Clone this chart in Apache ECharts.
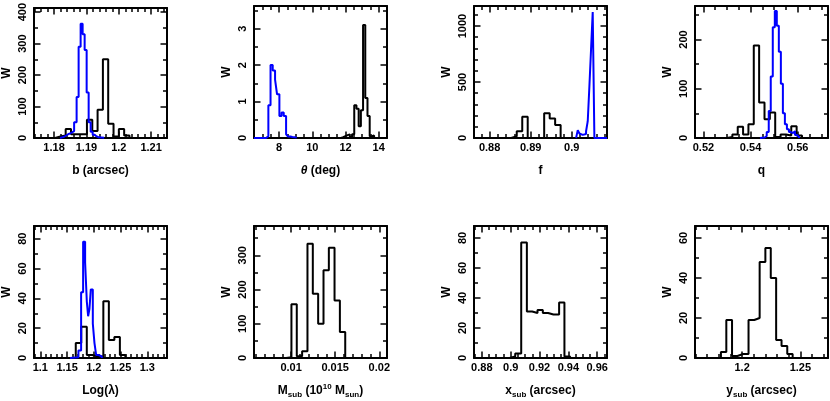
<!DOCTYPE html>
<html>
<head>
<meta charset="utf-8">
<script src="https://cdn.jsdelivr.net/npm/echarts@6/dist/echarts.min.js"></script>
<style>
  html, body { margin: 0; padding: 0; background: #fff; }
  #chart { width: 830px; height: 401px; }
</style>
</head>
<body>
<div id="chart"></div>
<script>
// histogram bin edges (left edges + final right edge) and weights
const bEdgesBlack = [1.18031, 1.18195, 1.18359, 1.18524, 1.18688, 1.18852, 1.19016, 1.19181, 1.19345, 1.19509, 1.19673, 1.19838, 1.20002, 1.20166, 1.20330];
const bCountsBlack = [5, 8, 29, 12, 12, 12, 58, 22, 90, 250, 45, 5, 29, 8];
const bEdgesBlue = [1.18186, 1.18248, 1.18310, 1.18372, 1.18434, 1.18496, 1.18558, 1.18620, 1.18697, 1.18759, 1.18821, 1.18883, 1.18945, 1.19007, 1.19069, 1.19131, 1.19193, 1.19255, 1.19317, 1.19379, 1.19549];
const bCountsBlue = [2, 4, 8, 12, 15, 18, 22, 50, 130, 290, 363, 330, 280, 145, 50, 20, 10, 5, 2, 1];

const thetaEdgesBlack = [11.730, 11.863, 11.996, 12.129, 12.262, 12.394, 12.527, 12.660, 12.793, 12.926, 13.058, 13.191, 13.324, 13.457, 13.590, 13.722];
const thetaCountsBlack = [0.02, 0.05, 0.08, 0.1, 0.03, 0.1, 0.9, 0.8, 0.32, 0.76, 3.1, 1.1, 0.6, 0.05, 0.07];
const thetaEdgesBlue = [6.491, 7.215, 7.356, 7.487, 7.618, 7.759, 7.879, 8.020, 8.151, 8.282, 8.423, 8.543, 8.684, 8.805, 8.946, 9.066];
const thetaCountsBlue = [0, 0.05, 0.9, 2.0, 1.85, 1.6, 1.2, 0.6, 0.7, 0.6, 0.1, 0.04, 0.03, 0.02, 0.01];

const fEdgesBlack = [0.88526, 0.88660, 0.88794, 0.88927, 0.89061, 0.89194, 0.89328, 0.89462, 0.89595, 0.89729];
const fCountsBlack = [15, 60, 190, 0, 0, 0, 220, 175, 115];
const fEdgesBlue = [0.90105, 0.90146, 0.90186, 0.90227, 0.90267, 0.90308, 0.90348, 0.90389, 0.90429, 0.90470, 0.90510, 0.90551, 0.90858];
const fCountsBlue = [3, 70, 40, 28, 25, 35, 60, 150, 460, 795, 1125, 0];

const qEdgesBlack = [0.53001, 0.53228, 0.53456, 0.53683, 0.53910, 0.54137, 0.54364, 0.54592, 0.54819, 0.55046, 0.55273, 0.55500, 0.55727, 0.55955, 0.56182];
const qCountsBlack = [2, 7, 23, 7, 28, 188, 72, 38, 52, 2, 7, 5, 24, 5];
const qEdgesBlue = [0.54400, 0.54600, 0.54686, 0.54772, 0.54857, 0.54943, 0.55029, 0.55114, 0.55200, 0.55286, 0.55372, 0.55457, 0.55543, 0.55629, 0.55715, 0.55800, 0.55886, 0.55972, 0.56057];
const qCountsBlue = [1, 4, 12, 55, 125, 225, 258, 228, 175, 110, 50, 28, 18, 12, 10, 14, 6, 2];

const lamEdgesBlack = [1.16625, 1.17656, 1.18688, 1.19719, 1.20750, 1.21781, 1.22813, 1.23844, 1.24875, 1.25906];
const lamCountsBlack = [10, 21, 2, 1, 1, 38, 12, 14, 2];
const lamEdgesBlue = [1.15563, 1.17125, 1.17625, 1.18000, 1.18375, 1.18688, 1.18938, 1.19188, 1.19438, 1.19813, 1.20125, 1.20438, 1.20875, 1.21500];
const lamCountsBlue = [0.5, 5, 44, 78, 64, 38, 28, 33, 46, 23, 10, 2, 1];

const msubEdges = [0.009432, 0.010038, 0.010644, 0.011250, 0.011856, 0.012462, 0.013068, 0.013674, 0.014280, 0.014924, 0.015530, 0.016136];
const msubCounts = [2, 157, 5, 20, 334, 188, 100, 256, 322, 168, 76];

const xsubEdges = [0.89925, 0.90317, 0.90732, 0.91124, 0.91493, 0.91862, 0.92231, 0.92599, 0.92968, 0.93360, 0.93729, 0.94121];
const xsubCounts = [1, 3, 77, 31, 30, 32, 30, 29, 29, 37, 1];

const ysubEdges = [1.18179, 1.18642, 1.19133, 1.19595, 1.20087, 1.20549, 1.21040, 1.21503, 1.21994, 1.22457, 1.22919, 1.23382, 1.23873, 1.24335];
const ysubCounts = [3, 19, 1, 2, 2, 19, 20, 48, 55, 40, 9, 6, 2];

const FONT = '"Liberation Sans", Arial, Helvetica, sans-serif';
const BLACK = '#000000';
const BLUE = '#0000ff';

// panel layout and axis settings: x = [min, max, major step, minor step], y = [max, major step, minor step]
const panels = [
  { left: 34, top: 6, x: [1.1738, 1.2149, 0.01, 0.002], y: [413, 100, 50], name: 'b (arcsec)',
    hists: [[bEdgesBlack, bCountsBlack, BLACK], [bEdgesBlue, bCountsBlue, BLUE]] },
  { left: 254, top: 6, x: [6.491, 14.499, 2, 0.5], y: [3.62, 1, 0.5], name: '{i|θ} (deg)',
    hists: [[thetaEdgesBlack, thetaCountsBlack, BLACK], [thetaEdgesBlue, thetaCountsBlue, BLUE]] },
  { left: 474, top: 6, x: [0.87619, 0.90858, 0.01, 0.002], y: [1179, 500, 100], name: 'f',
    hists: [[fEdgesBlack, fCountsBlack, BLACK], [fEdgesBlue, fCountsBlue, BLUE]] },
  { left: 695, top: 6, x: [0.51643, 0.57286, 0.02, 0.005], y: [268, 100, 50], name: 'q',
    hists: [[qEdgesBlack, qCountsBlack, BLACK], [qEdgesBlue, qCountsBlue, BLUE]] },
  { left: 34, top: 226, x: [1.08813, 1.33688, 0.05, 0.01], y: [88.5, 20, 10], name: 'Log(λ)',
    hists: [[lamEdgesBlack, lamCountsBlack, BLACK], [lamEdgesBlue, lamCountsBlue, BLUE]] },
  { left: 254, top: 226, x: [0.005795, 0.020871, 0.005, 0.001], y: [385.6, 100, 50], name: 'M{s|sub} (10{p|10} M{s|sun})',
    hists: [[msubEdges, msubCounts, BLACK]] },
  { left: 474, top: 226, x: [0.87458, 0.96681, 0.02, 0.005], y: [88, 20, 10], name: 'x{s|sub} (arcsec)',
    hists: [[xsubEdges, xsubCounts, BLACK]] },
  { left: 695, top: 226, x: [1.15954, 1.2737, 0.05, 0.01], y: [66, 20, 10], name: 'y{s|sub} (arcsec)',
    hists: [[ysubEdges, ysubCounts, BLACK]] }
];

function stepData (edges, counts) {
  const pts = [[edges[0], 0]];
  counts.forEach((c, i) => pts.push([edges[i], c]));
  pts.push([edges[edges.length - 1], 0]);
  return pts;
}

const grids = [];
const xAxes = [];
const yAxes = [];
const series = [];

const textBase = { fontFamily: FONT, fontWeight: 'bold', color: '#000' };
const noLine = { show: false, onZero: false };
const frameLine = { show: true, onZero: false, lineStyle: { color: '#000', width: 2 } };
function ticks (len) {
  return { show: true, inside: true, length: len, lineStyle: { color: '#000', width: 1.5 } };
}

// each panel side gets two axes: one for the long major ticks and one for the short minor ticks
panels.forEach((p, gi) => {
  grids.push({ left: p.left, top: p.top, width: 133, height: 132 });

  const [xMin, xMax, xMajor, xMinor] = p.x;
  const [yMax, yMajor, yMinor] = p.y;

  ['bottom', 'top'].forEach(pos => {
    [xMajor, xMinor].forEach((step, k) => {
      const ax = {
        gridIndex: gi, type: 'value', position: pos, min: xMin, max: xMax,
        minInterval: step, maxInterval: step,
        splitLine: { show: false },
        axisLine: k === 0 ? frameLine : noLine,
        axisTick: ticks(k === 0 ? 6.5 : 4),
        axisLabel: { show: false }
      };
      if (pos === 'bottom' && k === 0) {
        ax.axisLabel = Object.assign({ show: true, fontSize: 11, margin: 4, showMinLabel: false, showMaxLabel: false }, textBase);
        ax.name = p.name;
        ax.nameLocation = 'middle';
        ax.nameGap = 25;
        ax.nameTextStyle = Object.assign({
          fontSize: 12, lineHeight: 16,
          rich: {
            s: Object.assign({ fontSize: 8, lineHeight: 9, verticalAlign: 'bottom' }, textBase),
            p: Object.assign({ fontSize: 8, lineHeight: 9, verticalAlign: 'top' }, textBase),
            i: Object.assign({ fontSize: 12, lineHeight: 16, fontStyle: 'italic' }, textBase)
          }
        }, textBase);
      }
      xAxes.push(ax);
    });
  });

  ['left', 'right'].forEach(pos => {
    [yMajor, yMinor].forEach((step, k) => {
      const ax = {
        gridIndex: gi, type: 'value', position: pos, min: 0, max: yMax,
        minInterval: step, maxInterval: step,
        splitLine: { show: false },
        axisLine: k === 0 ? frameLine : noLine,
        axisTick: ticks(k === 0 ? 6.5 : 4),
        axisLabel: { show: false }
      };
      if (pos === 'left' && k === 0) {
        ax.axisLabel = Object.assign({
          show: true, fontSize: 11, margin: 6, rotate: 90, showMinLabel: true, showMaxLabel: false,
          formatter: v => String(v)
        }, textBase);
        ax.name = 'W';
        ax.nameLocation = 'middle';
        ax.nameRotate = 90;
        ax.nameGap = 21;
        ax.nameTextStyle = Object.assign({ fontSize: 12, lineHeight: 12 }, textBase);
      }
      yAxes.push(ax);
    });
  });

  p.hists.forEach(h => {
    series.push({
      type: 'line',
      xAxisIndex: gi * 4,
      yAxisIndex: gi * 4,
      step: 'end',
      symbol: 'none',
      silent: true,
      lineStyle: { color: h[2], width: 2 },
      data: stepData(h[0], h[1])
    });
  });
});

const chart = echarts.init(document.getElementById('chart'), null, { renderer: 'canvas' });
chart.setOption({
  animation: false,
  backgroundColor: '#fff',
  grid: grids,
  xAxis: xAxes,
  yAxis: yAxes,
  series: series
});
</script>
</body>
</html>
